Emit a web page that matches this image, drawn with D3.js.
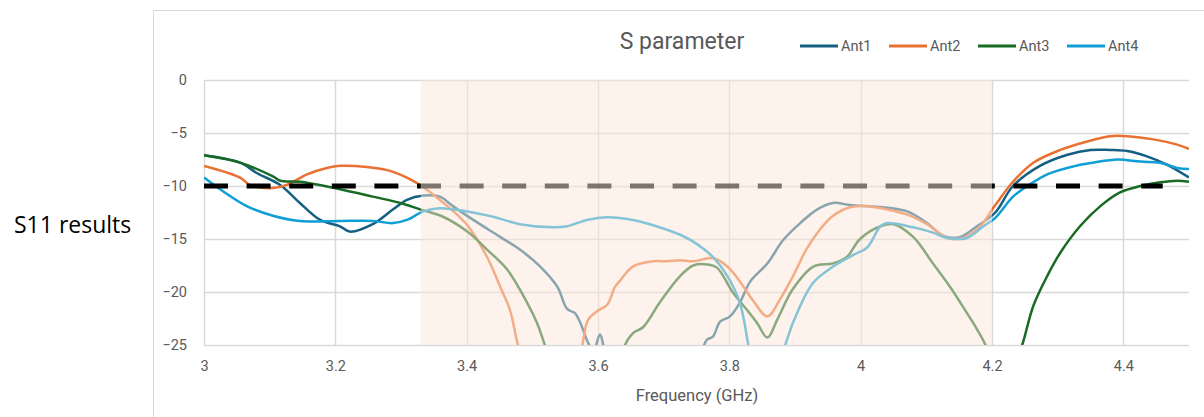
<!DOCTYPE html>
<html>
<head>
<meta charset="utf-8">
<script src="https://cdn.jsdelivr.net/npm/d3@7"></script>
<style>
  body { margin: 0; background: #fff; }
  svg text { font-family: "Roboto", sans-serif; fill: #595959; }
</style>
</head>
<body>
<svg id="chart" width="1204" height="417"></svg>
<script>
// Axis ticks
const xTicks = [3, 3.2, 3.4, 3.6, 3.8, 4, 4.2, 4.4];
const yTicks = [0, -5, -10, -15, -20, -25];

// Series names and colours (Office theme)
const seriesNames = ["Ant1", "Ant2", "Ant3", "Ant4"];
const seriesColors = ["#156082", "#E97132", "#196B24", "#0F9ED5"];

// Ant1: frequency (GHz) / S11 (dB)
const freqAnt1 = [3.000, 3.055, 3.081, 3.116, 3.146, 3.177, 3.207, 3.222, 3.257, 3.288, 3.309, 3.334, 3.359, 3.379,
  3.410, 3.451, 3.481, 3.512, 3.538, 3.553, 3.565, 3.573, 3.585, 3.593, 3.603, 3.611, 3.634, 3.725, 3.759, 3.766,
  3.775, 3.786, 3.801, 3.816, 3.832, 3.858, 3.882, 3.908, 3.934, 3.958, 3.984, 4.034, 4.071, 4.101, 4.126, 4.152,
  4.177, 4.205, 4.232, 4.273, 4.315, 4.350, 4.380, 4.406, 4.436, 4.467, 4.500];
const s11Ant1 = [-7.1, -7.8, -8.8, -9.9, -11.6, -13.2, -13.8, -14.3, -13.6, -12.2, -11.3, -10.9, -11.0, -11.9,
  -13.2, -14.8, -16.0, -17.6, -19.5, -21.6, -22.0, -22.9, -24.8, -25.6, -24.0, -25.6, -28, -28, -25.3, -24.5,
  -24.2, -22.8, -22.3, -21.0, -19.0, -17.3, -15.1, -13.5, -12.2, -11.6, -11.8, -12.0, -12.4, -13.5, -14.7, -14.8,
  -13.8, -12.5, -10.0, -8.1, -7.05, -6.6, -6.6, -6.7, -7.2, -8.0, -9.2];

// Ant2
const freqAnt2 = [3.000, 3.055, 3.070, 3.105, 3.126, 3.157, 3.187, 3.207, 3.248, 3.279, 3.309, 3.329, 3.359, 3.401,
  3.431, 3.451, 3.466, 3.478, 3.497, 3.558, 3.576, 3.585, 3.599, 3.614, 3.626, 3.634, 3.653, 3.684, 3.705, 3.725,
  3.745, 3.775, 3.797, 3.816, 3.836, 3.858, 3.878, 3.897, 3.918, 3.938, 3.958, 3.984, 4.010, 4.040, 4.071, 4.101,
  4.132, 4.156, 4.182, 4.205, 4.232, 4.263, 4.304, 4.345, 4.380, 4.406, 4.446, 4.482, 4.500];
const s11Ant2 = [-8.1, -9.2, -9.9, -10.2, -9.9, -8.9, -8.3, -8.1, -8.2, -8.5, -9.2, -9.9, -11.3, -13.7,
  -16.7, -19.5, -21.7, -25.0, -29, -29, -25, -22.6, -21.8, -21.2, -19.5, -18.9, -17.6, -17.1, -17.1, -17.0,
  -17.1, -16.8, -17.6, -19.0, -20.8, -22.3, -20.6, -18.5, -15.9, -14.1, -12.8, -12.0, -11.9, -12.2, -12.7, -13.6,
  -14.9, -14.9, -13.8, -11.8, -9.6, -7.8, -6.6, -5.8, -5.3, -5.3, -5.6, -6.1, -6.5];

// Ant3
const freqAnt3 = [3.000, 3.055, 3.105, 3.116, 3.146, 3.207, 3.257, 3.299, 3.329, 3.364, 3.401, 3.431, 3.462, 3.492,
  3.507, 3.519, 3.535, 3.626, 3.641, 3.653, 3.669, 3.695, 3.725, 3.745, 3.766, 3.781, 3.806, 3.827, 3.842, 3.858,
  3.873, 3.897, 3.928, 3.958, 3.979, 3.999, 4.030, 4.050, 4.080, 4.110, 4.136, 4.162, 4.177, 4.190, 4.205, 4.228,
  4.246, 4.263, 4.284, 4.304, 4.334, 4.365, 4.395, 4.426, 4.456, 4.482, 4.500];
const s11Ant3 = [-7.1, -7.8, -9.1, -9.5, -9.6, -10.3, -11.0, -11.6, -12.2, -12.9, -14.3, -16.0, -17.9, -21.0,
  -22.9, -25.0, -28, -28, -25, -23.9, -23.3, -20.9, -18.5, -17.5, -17.4, -17.7, -20.1, -21.7, -22.9, -24.3,
  -22.6, -19.7, -17.6, -17.3, -16.7, -15.0, -13.8, -13.6, -14.8, -17.3, -19.5, -22.0, -23.5, -25.0, -28, -28,
  -25, -21.3, -18.5, -16.3, -13.8, -11.9, -10.6, -10.0, -9.65, -9.5, -9.6];

// Ant4
const freqAnt4 = [3.000, 3.029, 3.065, 3.105, 3.146, 3.207, 3.257, 3.288, 3.309, 3.334, 3.359, 3.401, 3.440, 3.481,
  3.532, 3.553, 3.583, 3.614, 3.653, 3.684, 3.725, 3.745, 3.775, 3.797, 3.816, 3.829, 3.839, 3.874, 3.885, 3.908,
  3.928, 3.958, 3.989, 4.010, 4.030, 4.040, 4.080, 4.110, 4.132, 4.162, 4.187, 4.205, 4.232, 4.254, 4.284, 4.324,
  4.354, 4.391, 4.426, 4.456, 4.482, 4.500];
const s11Ant4 = [-9.2, -10.5, -11.9, -12.8, -13.3, -13.3, -13.3, -13.5, -13.2, -12.4, -12.1, -12.4, -12.9, -13.6,
  -13.9, -13.8, -13.2, -12.95, -13.2, -13.7, -14.6, -15.25, -16.7, -18.5, -21.0, -25, -28, -28, -25, -21.3,
  -19.1, -17.6, -16.5, -15.8, -13.8, -13.5, -13.9, -14.4, -14.9, -14.9, -13.8, -13.0, -11.0, -10.0, -8.9, -8.15,
  -7.8, -7.5, -7.7, -7.8, -8.3, -8.4];

// -10 dB threshold line and highlighted band
const thresholdFreq = [3.0, 4.46];
const thresholdDb = [-10, -10];
const bandFreq = [3.33, 4.2];

const allFreq = [freqAnt1, freqAnt2, freqAnt3, freqAnt4];
const allS11 = [s11Ant1, s11Ant2, s11Ant3, s11Ant4];

const svg = d3.select("#chart");
const plot = { left: 204, right: 1189, top: 80, bottom: 345 };

const x = d3.scaleLinear().domain([3, 4.5]).range([plot.left, plot.right]);
const y = d3.scaleLinear().domain([-25, 0]).range([plot.bottom, plot.top]);

// outer chart frame (left and top edges)
svg.append("line").attr("x1", 153.5).attr("x2", 153.5).attr("y1", 10).attr("y2", 417)
   .attr("stroke", "#d9d9d9").attr("stroke-width", 1);
svg.append("line").attr("x1", 153).attr("x2", 1204).attr("y1", 10.5).attr("y2", 10.5)
   .attr("stroke", "#d9d9d9").attr("stroke-width", 1);

// side label
svg.append("text").attr("x", 14).attr("y", 233)
   .style("font-family", "'Open Sans', sans-serif").style("font-size", "23px").style("fill", "#000")
   .text("S11 results");

// grid
svg.append("g").selectAll("line").data(yTicks).enter().append("line")
   .attr("x1", plot.left).attr("x2", plot.right)
   .attr("y1", d => Math.round(y(d)) + 0.5).attr("y2", d => Math.round(y(d)) + 0.5)
   .attr("stroke", "#d9d9d9").attr("stroke-width", 1.5);
svg.append("g").selectAll("line").data(xTicks).enter().append("line")
   .attr("x1", d => Math.round(x(d)) + 0.5).attr("x2", d => Math.round(x(d)) + 0.5)
   .attr("y1", plot.top).attr("y2", plot.bottom)
   .attr("stroke", "#d9d9d9").attr("stroke-width", 1.5);

// axes labels via d3 axes (no domain/tick lines)
const yAxis = svg.append("g").attr("transform", `translate(${plot.left},0)`)
   .call(d3.axisLeft(y).tickValues(yTicks).tickSize(0).tickPadding(17).tickFormat(d3.format("d")));
const xAxis = svg.append("g").attr("transform", `translate(0,${plot.bottom})`)
   .call(d3.axisBottom(x).tickValues(xTicks).tickSize(0).tickPadding(16).tickFormat(d => d));
[yAxis, xAxis].forEach(g => {
    g.select(".domain").remove();
    g.selectAll("text").style("font-size", "14.5px").style("fill", "#595959")
     .style("font-family", "'Roboto', sans-serif");
});

svg.append("text").attr("x", 697).attr("y", 401).attr("text-anchor", "middle")
   .style("font-size", "16.5px").text("Frequency (GHz)");

// clip for curves
svg.append("defs").append("clipPath").attr("id", "plotClip")
   .append("rect").attr("x", plot.left).attr("y", plot.top - 5)
   .attr("width", plot.right - plot.left).attr("height", plot.bottom - plot.top + 5);

const line = d3.line()
    .x(d => x(d[0]))
    .y(d => y(d[1]))
    .curve(d3.curveCatmullRom.alpha(0.5));

const curves = svg.append("g").attr("clip-path", "url(#plotClip)");
allFreq.forEach((fr, i) => {
    const pts = fr.map((f, k) => [f, allS11[i][k]]);
    curves.append("path")
        .attr("d", line(pts))
        .attr("fill", "none")
        .attr("stroke", seriesColors[i])
        .attr("stroke-width", 2.5)
        .attr("stroke-linejoin", "round");
});

// threshold dashes
curves.append("path")
    .attr("d", d3.line().x(d => x(d[0])).y(d => y(d[1]))(thresholdFreq.map((f, k) => [f, thresholdDb[k]])))
    .attr("stroke", "#000")
    .attr("stroke-width", 5)
    .attr("stroke-dasharray", "24,18.6")
    .attr("fill", "none");

// highlighted band drawn over the curves
svg.append("rect")
    .attr("x", x(bandFreq[0]))
    .attr("y", plot.top)
    .attr("width", x(bandFreq[1]) - x(bandFreq[0]))
    .attr("height", plot.bottom - plot.top)
    .attr("fill", "rgb(251,231,218)")
    .attr("fill-opacity", 0.5);

// title
svg.append("text").attr("x", 682).attr("y", 49).attr("text-anchor", "middle")
   .style("font-size", "23px").text("S parameter");

// legend
const legend = svg.append("g");
seriesNames.forEach((name, i) => {
    const lx = 800 + i * 89;
    legend.append("line").attr("x1", lx).attr("x2", lx + 38).attr("y1", 46).attr("y2", 46)
          .attr("stroke", seriesColors[i]).attr("stroke-width", 3);
    legend.append("text").attr("x", lx + 41).attr("y", 51)
          .style("font-size", "14.5px").text(name);
});
</script>
</body>
</html>
